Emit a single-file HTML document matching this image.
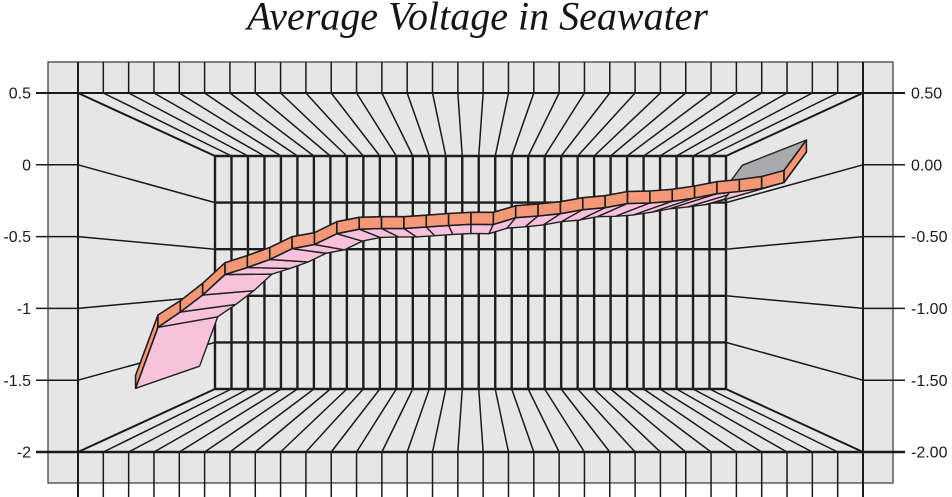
<!DOCTYPE html>
<html><head><meta charset="utf-8"><style>
html,body{margin:0;padding:0;background:#fff;}
svg{display:block;}
</style></head><body>
<svg width="952" height="497" viewBox="0 0 952 497" xmlns="http://www.w3.org/2000/svg">
<text x="477.5" y="29.5" font-family="Liberation Serif, serif" font-style="italic" font-size="40" text-anchor="middle" fill="#151515">Average Voltage in Seawater</text>
<rect x="48" y="62" width="845" height="421" fill="#e6e6e6" stroke="#444" stroke-width="1.3"/>
<g fill="none" stroke="#1a1a1a" stroke-width="1.5">
<path d="M103.32 62V93M128.65 62V93M153.97 62V93M179.29 62V93M204.61 62V93M229.94 62V93M255.26 62V93M280.58 62V93M305.9 62V93M331.23 62V93M356.55 62V93M381.87 62V93M407.19 62V93M432.52 62V93M457.84 62V93M483.16 62V93M508.48 62V93M533.81 62V93M559.13 62V93M584.45 62V93M609.77 62V93M635.1 62V93M660.42 62V93M685.74 62V93M711.06 62V93M736.39 62V93M761.71 62V93M787.03 62V93M812.35 62V93M837.68 62V93"/>
<path d="M103.32 452V497M128.65 452V497M153.97 452V497M179.29 452V497M204.61 452V497M229.94 452V497M255.26 452V497M280.58 452V497M305.9 452V497M331.23 452V497M356.55 452V497M381.87 452V497M407.19 452V497M432.52 452V497M457.84 452V497M483.16 452V497M508.48 452V497M533.81 452V497M559.13 452V497M584.45 452V497M609.77 452V497M635.1 452V497M660.42 452V497M685.74 452V497M711.06 452V497M736.39 452V497M761.71 452V497M787.03 452V497M812.35 452V497M837.68 452V497"/>
<path d="M103.32 93L231.48 156M128.65 93L247.97 156M153.97 93L264.45 156M179.29 93L280.94 156M204.61 93L297.42 156M229.94 93L313.9 156M255.26 93L330.39 156M280.58 93L346.87 156M305.9 93L363.35 156M331.23 93L379.84 156M356.55 93L396.32 156M381.87 93L412.81 156M407.19 93L429.29 156M432.52 93L445.77 156M457.84 93L462.26 156M483.16 93L478.74 156M508.48 93L495.23 156M533.81 93L511.71 156M559.13 93L528.19 156M584.45 93L544.68 156M609.77 93L561.16 156M635.1 93L577.65 156M660.42 93L594.13 156M685.74 93L610.61 156M711.06 93L627.1 156M736.39 93L643.58 156M761.71 93L660.06 156M787.03 93L676.55 156M812.35 93L693.03 156M837.68 93L709.52 156"/>
<path d="M103.32 452L231.48 389M128.65 452L247.97 389M153.97 452L264.45 389M179.29 452L280.94 389M204.61 452L297.42 389M229.94 452L313.9 389M255.26 452L330.39 389M280.58 452L346.87 389M305.9 452L363.35 389M331.23 452L379.84 389M356.55 452L396.32 389M381.87 452L412.81 389M407.19 452L429.29 389M432.52 452L445.77 389M457.84 452L462.26 389M483.16 452L478.74 389M508.48 452L495.23 389M533.81 452L511.71 389M559.13 452L528.19 389M584.45 452L544.68 389M609.77 452L561.16 389M635.1 452L577.65 389M660.42 452L594.13 389M685.74 452L610.61 389M711.06 452L627.1 389M736.39 452L643.58 389M761.71 452L660.06 389M787.03 452L676.55 389M812.35 452L693.03 389M837.68 452L709.52 389"/>
<path d="M78 164.8L215 202.6M78 236.6L215 249.2M78 308.4L215 295.8M78 380.2L215 342.4M863 164.8L726 202.6M863 236.6L726 249.2M863 308.4L726 295.8M863 380.2L726 342.4"/>
<path d="M36 164.8H78M36 236.6H78M36 308.4H78M36 380.2H78M863 164.8H905M863 236.6H905M863 308.4H905M863 380.2H905"/>
</g>
<g fill="none" stroke="#1a1a1a" stroke-width="2">
<path d="M78 93L215 156M863 93L726 156M78 452L215 389M863 452L726 389"/>
<path d="M78 62V497M863 62V497M36 93H905"/>
</g>
<path d="M36 452H905" stroke="#1a1a1a" stroke-width="2.6"/>
<g fill="none" stroke="#1e1e1e" stroke-width="2.4">
<path d="M215 156V389M231.48 156V389M247.97 156V389M264.45 156V389M280.94 156V389M297.42 156V389M313.9 156V389M330.39 156V389M346.87 156V389M363.35 156V389M379.84 156V389M396.32 156V389M412.81 156V389M429.29 156V389M445.77 156V389M462.26 156V389M478.74 156V389M495.23 156V389M511.71 156V389M528.19 156V389M544.68 156V389M561.16 156V389M577.65 156V389M594.13 156V389M610.61 156V389M627.1 156V389M643.58 156V389M660.06 156V389M676.55 156V389M693.03 156V389M709.52 156V389M726 156V389"/>
<path d="M215 156H726M215 202.6H726M215 249.2H726M215 295.8H726M215 342.4H726M215 389H726"/>
</g>
<g fill="#f8c1dc" stroke="#222" stroke-width="1.4" stroke-linejoin="round">
<polygon points="135.6,388.3 157.96,327.3 217.66,316.83 199.57,366.18"/>
<polygon points="157.96,327.3 180.32,312 235.74,304.46 217.66,316.83"/>
<polygon points="180.32,312 202.68,295 253.83,290.7 235.74,304.46"/>
<polygon points="202.68,295 225.04,274.5 271.92,274.12 253.83,290.7"/>
<polygon points="225.04,274.5 247.4,267.5 290.01,268.45 271.92,274.12"/>
<polygon points="247.4,267.5 269.76,259.5 308.1,261.98 290.01,268.45"/>
<polygon points="269.76,259.5 292.12,248.7 326.19,253.25 308.1,261.98"/>
<polygon points="292.12,248.7 314.48,244.5 344.28,249.85 326.19,253.25"/>
<polygon points="314.48,244.5 336.84,233.7 362.37,241.11 344.28,249.85"/>
<polygon points="336.84,233.7 359.2,229.2 380.46,237.47 362.37,241.11"/>
<polygon points="359.2,229.2 381.56,228.5 398.55,236.9 380.46,237.47"/>
<polygon points="381.56,228.5 403.92,228.5 416.64,236.9 398.55,236.9"/>
<polygon points="403.92,228.5 426.28,227 434.73,235.69 416.64,236.9"/>
<polygon points="426.28,227 448.64,225.5 452.82,234.48 434.73,235.69"/>
<polygon points="448.64,225.5 471,224.3 470.9,233.51 452.82,234.48"/>
<polygon points="471,224.3 493.36,224.5 488.99,233.67 470.9,233.51"/>
<polygon points="493.36,224.5 515.72,217.7 507.08,228.17 488.99,233.67"/>
<polygon points="515.72,217.7 538.08,216 525.17,226.79 507.08,228.17"/>
<polygon points="538.08,216 560.44,213.7 543.26,224.93 525.17,226.79"/>
<polygon points="560.44,213.7 582.8,209.7 561.35,221.69 543.26,224.93"/>
<polygon points="582.8,209.7 605.16,207.7 579.44,220.08 561.35,221.69"/>
<polygon points="605.16,207.7 627.52,203.5 597.53,216.68 579.44,220.08"/>
<polygon points="627.52,203.5 649.88,203 615.62,216.27 597.53,216.68"/>
<polygon points="649.88,203 672.24,201.3 633.71,214.9 615.62,216.27"/>
<polygon points="672.24,201.3 694.6,198 651.8,212.23 633.71,214.9"/>
<polygon points="694.6,198 716.96,193.7 669.89,208.75 651.8,212.23"/>
<polygon points="716.96,193.7 739.32,191.5 687.98,206.97 669.89,208.75"/>
<polygon points="739.32,191.5 761.68,188.5 706.06,204.54 687.98,206.97"/>
<polygon points="761.68,188.5 784.04,182.5 724.15,199.69 706.06,204.54"/>
<polygon points="784.04,182.5 806.4,152 742.24,175.02 724.15,199.69"/>
</g>
<polygon points="784.04,170.5 806.4,140 742.24,165.31 724.15,189.98" fill="#a9a9ab" stroke="#222" stroke-width="1.4" stroke-linejoin="round"/>
<g fill="#f59878" stroke="#1e1e1e" stroke-width="1.6" stroke-linejoin="round">
<polygon points="135.6,375.5 157.96,315 157.96,327.3 135.6,388.3"/>
<polygon points="157.96,315 180.32,300.7 180.32,312 157.96,327.3"/>
<polygon points="180.32,300.7 202.68,283.3 202.68,295 180.32,312"/>
<polygon points="202.68,283.3 225.04,262.7 225.04,274.5 202.68,295"/>
<polygon points="225.04,262.7 247.4,255.5 247.4,267.5 225.04,274.5"/>
<polygon points="247.4,255.5 269.76,247.5 269.76,259.5 247.4,267.5"/>
<polygon points="269.76,247.5 292.12,236.7 292.12,248.7 269.76,259.5"/>
<polygon points="292.12,236.7 314.48,232.7 314.48,244.5 292.12,248.7"/>
<polygon points="314.48,232.7 336.84,221.7 336.84,233.7 314.48,244.5"/>
<polygon points="336.84,221.7 359.2,217.3 359.2,229.2 336.84,233.7"/>
<polygon points="359.2,217.3 381.56,216.7 381.56,228.5 359.2,229.2"/>
<polygon points="381.56,216.7 403.92,216.7 403.92,228.5 381.56,228.5"/>
<polygon points="403.92,216.7 426.28,215.2 426.28,227 403.92,228.5"/>
<polygon points="426.28,215.2 448.64,213.5 448.64,225.5 426.28,227"/>
<polygon points="448.64,213.5 471,212.3 471,224.3 448.64,225.5"/>
<polygon points="471,212.3 493.36,212.3 493.36,224.5 471,224.3"/>
<polygon points="493.36,212.3 515.72,205.7 515.72,217.7 493.36,224.5"/>
<polygon points="515.72,205.7 538.08,204 538.08,216 515.72,217.7"/>
<polygon points="538.08,204 560.44,201.7 560.44,213.7 538.08,216"/>
<polygon points="560.44,201.7 582.8,197.7 582.8,209.7 560.44,213.7"/>
<polygon points="582.8,197.7 605.16,195.7 605.16,207.7 582.8,209.7"/>
<polygon points="605.16,195.7 627.52,191.5 627.52,203.5 605.16,207.7"/>
<polygon points="627.52,191.5 649.88,191 649.88,203 627.52,203.5"/>
<polygon points="649.88,191 672.24,189.3 672.24,201.3 649.88,203"/>
<polygon points="672.24,189.3 694.6,186 694.6,198 672.24,201.3"/>
<polygon points="694.6,186 716.96,181.7 716.96,193.7 694.6,198"/>
<polygon points="716.96,181.7 739.32,179.5 739.32,191.5 716.96,193.7"/>
<polygon points="739.32,179.5 761.68,176.5 761.68,188.5 739.32,191.5"/>
<polygon points="761.68,176.5 784.04,170.5 784.04,182.5 761.68,188.5"/>
<polygon points="784.04,170.5 806.4,140 806.4,152 784.04,182.5"/>
</g>
<g font-family="Liberation Sans, sans-serif" font-size="16" fill="#1a1a1a">
<g text-anchor="end">
<text x="31" y="98.6">0.5</text>
<text x="31" y="170.4">0</text>
<text x="31" y="242.2">-0.5</text>
<text x="31" y="314">-1</text>
<text x="31" y="385.8">-1.5</text>
<text x="31" y="457.6">-2</text>
</g>
<g text-anchor="start">
<text x="911" y="98.6">0.50</text>
<text x="911" y="170.4">0.00</text>
<text x="911" y="242.2">-0.50</text>
<text x="911" y="314">-1.00</text>
<text x="911" y="385.8">-1.50</text>
<text x="911" y="457.6">-2.00</text>
</g>
</g>
</svg>
</body></html>
